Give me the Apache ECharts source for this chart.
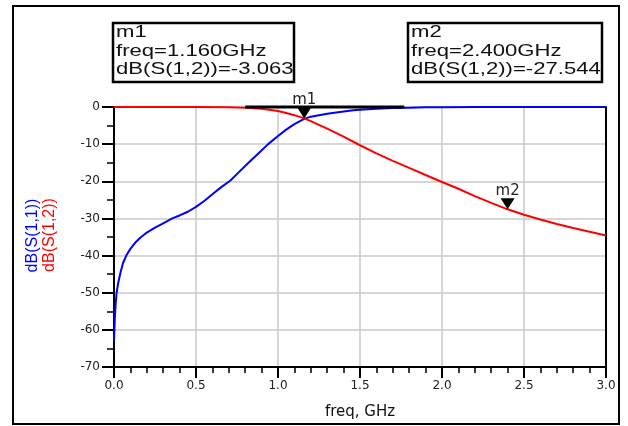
<!DOCTYPE html>
<html>
<head>
<meta charset="utf-8">
<script src="https://cdn.jsdelivr.net/npm/echarts@6/dist/echarts.min.js"></script>
<style>html,body{margin:0;padding:0;background:#fff;}#c{width:628px;height:426px;}</style>
</head>
<body>
<div id="c"></div>
<script>
// ---- data ----
const s11Freq = [0,0.005,0.01,0.016,0.025,0.04,0.055,0.075,0.1,0.13,0.16,0.2,0.25,0.3,0.355,0.4,0.45,0.5,0.55,0.6,0.65,0.71,0.76,0.82,0.88,0.94,1.0,1.05,1.1,1.16,1.2,1.25,1.3,1.4,1.46,1.5,1.6,1.7,1.8,1.9,2.0,2.2,2.5,3.0];
const s11dB   = [-63,-57,-53,-50,-47.5,-44.5,-42,-40,-38.2,-36.5,-35.2,-33.8,-32.5,-31.3,-30,-29.2,-28.2,-26.9,-25.3,-23.5,-21.7,-19.8,-17.6,-15.0,-12.5,-10.0,-7.8,-6.1,-4.6,-3.2,-2.6,-2.2,-1.8,-1.2,-0.9,-0.75,-0.5,-0.3,-0.18,-0.1,-0.06,-0.03,-0.01,0];
const s12Freq = [0,0.5,0.7,0.8,0.9,1.0,1.05,1.1,1.16,1.2,1.3,1.4,1.5,1.6,1.7,1.8,1.9,2.0,2.1,2.2,2.3,2.4,2.5,2.6,2.7,2.8,2.9,3.0];
const s12dB   = [0,0,-0.05,-0.2,-0.5,-1.1,-1.6,-2.2,-3.063,-3.8,-5.8,-8.0,-10.3,-12.5,-14.5,-16.4,-18.3,-20.2,-22.0,-24.0,-25.8,-27.544,-29.0,-30.3,-31.5,-32.6,-33.6,-34.6];
const readoutLineFreq = [0.8, 1.77];
const readoutLineDB = [0, 0];
const markerNames = ['m1','m2'];
const markerFreq = [1.16, 2.4];
const markerDB = [-3.063, -27.544];
const xTicks = [0,0.5,1.0,1.5,2.0,2.5,3.0];
const yTicks = [0,-10,-20,-30,-40,-50,-60,-70];

const zip = (a,b) => a.map((v,i)=>[v,b[i]]);
const chart = echarts.init(document.getElementById('c'), null, {renderer:'canvas'});

const boxFont = 'Liberation Sans, Arial, sans-serif';
function boxGroup(x, y, w, h, idx){
  const lines = [markerNames[idx], 'freq=' + markerFreq[idx].toFixed(3) + 'GHz', 'dB(S(1,2))=' + markerDB[idx].toFixed(3)];
  const children = [{type:'rect', shape:{x:x,y:y,width:w,height:h}, style:{fill:'#fff', stroke:'#000', lineWidth:2.5}}];
  lines.forEach((t,i)=>{
    children.push({type:'text', x:x+3, y:y+9.5+i*18.5, scaleX:1.3, scaleY:1,
      style:{text:t, x:0, y:0, fill:'#111', font:'17px ' + boxFont, align:'left', verticalAlign:'middle'}});
  });
  return {type:'group', children:children};
}

const option = {
  animation:false,
  backgroundColor:'#fff',
  grid:{left:114, top:107, right:22, bottom:59, containLabel:false},
  xAxis:{type:'value', min:0, max:3, interval:0.5,
    axisLine:{onZero:false, lineStyle:{color:'#000', width:2}},
    axisTick:{length:11, lineStyle:{color:'#000', width:2}},
    minorTick:{show:true, splitNumber:5, length:6, lineStyle:{color:'#000', width:1.5}},
    splitLine:{show:true, lineStyle:{color:'#c8c8c8', width:1.5}},
    axisLabel:{formatter:(v)=>xTicks.includes(v)? v.toFixed(1):'', fontFamily:'DejaVu Sans', fontSize:12, color:'#222', margin:13},
    name:'freq, GHz', nameLocation:'middle', nameGap:38,
    nameTextStyle:{fontFamily:'DejaVu Sans', fontSize:15, color:'#111'}
  },
  yAxis:[{type:'value', min:-70, max:0, interval:10,
    axisLine:{show:true, onZero:false, lineStyle:{color:'#000', width:2}},
    axisTick:{show:true, length:12, lineStyle:{color:'#000', width:2}},
    minorTick:{show:true, splitNumber:2, length:7, lineStyle:{color:'#000', width:1.5}},
    splitLine:{show:true, lineStyle:{color:'#c8c8c8', width:1.5}},
    axisLabel:{formatter:(v)=>yTicks.includes(v)? String(v):'', fontFamily:'DejaVu Sans', fontSize:12, color:'#222', margin:14}
  },{type:'value', min:-70, max:0, interval:10, position:'right',
    axisLine:{show:true, onZero:false, lineStyle:{color:'#000', width:2}},
    axisTick:{show:false}, axisLabel:{show:false}, splitLine:{show:false}
  }],
  series:[
    {type:'line', name:'dB(S(1,1))', data:zip(s11Freq,s11dB), showSymbol:false, clip:false,
      lineStyle:{color:'#0000ff', width:2}, z:3},
    {type:'line', name:'dB(S(1,2))', data:zip(s12Freq,s12dB), showSymbol:false, clip:false,
      lineStyle:{color:'#ff0000', width:2}, z:4},
    {type:'line', name:'readout', data:zip(readoutLineFreq,readoutLineDB), showSymbol:false, clip:false,
      lineStyle:{color:'#000', width:3}, z:5},
    {type:'scatter', name:'markers', clip:false, z:6,
      data:markerNames.map((n,i)=>({name:n, value:[markerFreq[i], markerDB[i]]})),
      symbol:'path://M0,0L14,0L7,11Z', symbolSize:[14,11], symbolOffset:[0,'-50%'],
      itemStyle:{color:'#000', opacity:1},
      label:{show:true, position:'top', distance:0, formatter:(p)=>p.name, fontFamily:'DejaVu Sans', fontSize:15, color:'#222'}
    }
  ],
  graphic:[
    {type:'rect', shape:{x:13,y:6,width:606,height:418}, style:{fill:'none', stroke:'#000', lineWidth:2}, z:-1},
    boxGroup(113, 23, 181, 59, 0),
    boxGroup(408, 23, 194, 59, 1),
    {type:'text', x:32.5, y:235.5, rotation:Math.PI/2,
      style:{text:'dB(S(1,1))', x:0, y:0, fill:'#0000ff', font:'16px ' + boxFont, align:'center', verticalAlign:'middle'}},
    {type:'text', x:50, y:235, rotation:Math.PI/2,
      style:{text:'dB(S(1,2))', x:0, y:0, fill:'#ff0000', font:'16px ' + boxFont, align:'center', verticalAlign:'middle'}}
  ]
};
chart.setOption(option);
</script>
</body>
</html>
